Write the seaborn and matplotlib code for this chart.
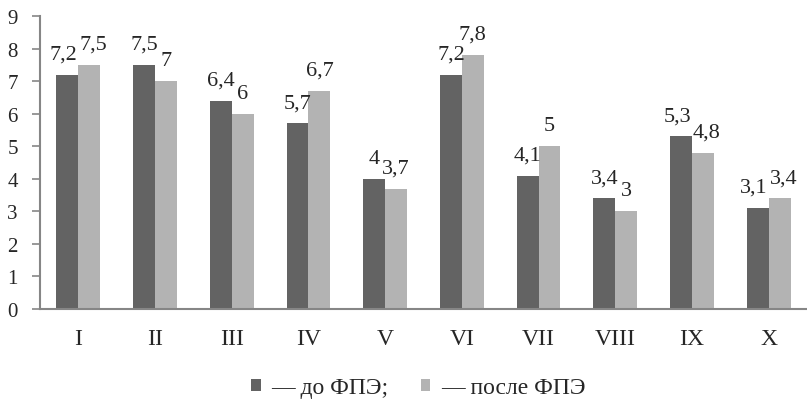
import pandas as pd
import matplotlib.pyplot as plt
import seaborn as sns
from matplotlib.patches import Patch

# Chart data
groups = ['I', 'II', 'III', 'IV', 'V', 'VI', 'VII', 'VIII', 'IX', 'X']
before = [7.2, 7.5, 6.4, 5.7, 4.0, 7.2, 4.1, 3.4, 5.3, 3.1]
after = [7.5, 7.0, 6.0, 6.7, 3.7, 7.8, 5.0, 3.0, 4.8, 3.4]
series_names = ['— до ФПЭ;', '— после ФПЭ']

df = pd.DataFrame({
    'group': groups * 2,
    'value': before + after,
    'series': [series_names[0]] * len(groups) + [series_names[1]] * len(groups),
})

sns.set_style('white')
plt.rcParams['font.family'] = ['Liberation Serif', 'DejaVu Serif']

colors = ['#636363', '#b3b3b3']
axis_gray = '#868686'
label_pad = 8

fig = plt.figure(figsize=(8.07, 4.02), dpi=100)
ax = fig.add_axes([40 / 807, 92 / 402, 767 / 807, 293 / 402])

sns.barplot(data=df, x='group', y='value', hue='series', order=groups,
            hue_order=series_names, palette=colors, width=0.57, gap=0,
            saturation=1, linewidth=0, legend=False, ax=ax)

# value labels with comma decimals
label_sets = []
for cont in ax.containers:
    label_sets.append(ax.bar_label(cont, labels=[f'{b.get_height():g}'.replace('.', ',') for b in cont],
                                   padding=label_pad, fontsize=16))

ax.set_xlim(-0.5, len(groups) - 0.5)
ax.set_ylim(0, 9)
ax.set_yticks(range(10))
ax.set_xlabel('')
ax.set_ylabel('')

# category labels at centers, tick marks at boundaries
ax.set_xticks(range(len(groups)))
ax.set_xticklabels(groups)
ax.tick_params(axis='x', which='major', length=0, pad=14, labelsize=17)
ax.set_xticks([i - 0.5 for i in range(len(groups) + 1)], minor=True)
ax.tick_params(axis='x', which='minor', length=6, width=1.2, color=axis_gray, direction='out')
ax.tick_params(axis='y', length=6, width=1.2, color=axis_gray, pad=10, labelsize=15, left=True)

sns.despine(ax=ax, top=True, right=True)
for side in ['left', 'bottom']:
    ax.spines[side].set_color(axis_gray)
    ax.spines[side].set_linewidth(1.5)

handles = [Patch(facecolor=c, edgecolor='none') for c in colors]
fig.legend(handles, series_names, loc='center left', bbox_to_anchor=(251 / 807, 0.033), ncol=2,
           frameon=False, fontsize=17, handlelength=0.42, handleheight=0.42,
           handletextpad=0.45, columnspacing=1.35, borderpad=0, borderaxespad=0)

# push apart paired labels that collide (like the original does)
fig.canvas.draw()
renderer = fig.canvas.get_renderer()
for a, b in zip(*label_sets):
    ea, eb = a.get_window_extent(renderer), b.get_window_extent(renderer)
    overlap_x = ea.x1 - eb.x0 + 2
    overlap_y = min(ea.y1, eb.y1) - max(ea.y0, eb.y0)
    if overlap_x > 0 and overlap_y > 0:
        shift = overlap_x / 2 * 72 / fig.dpi
        a.xyann = (-shift, label_pad)
        b.xyann = (shift, label_pad)

fig.savefig('out.png', dpi=100)
